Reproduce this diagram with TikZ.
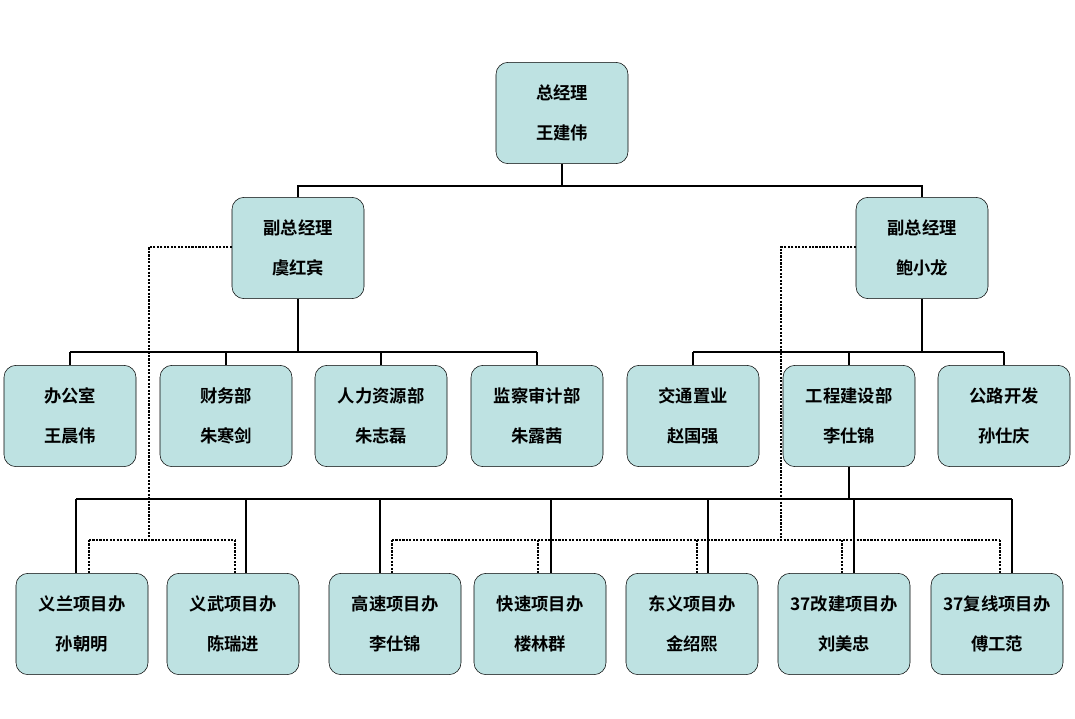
\documentclass[tikz,border=0pt]{standalone}
\usepackage{fontspec}
\setmainfont{Noto Sans CJK SC}[BoldFont={* Bold}]
\definecolor{boxfill}{RGB}{190,226,226}
\begin{document}
\begin{tikzpicture}[
		x=0.75pt,y=-0.75pt,
		unit/.style={draw,thin,fill=boxfill,rounded corners=9pt,minimum width=99pt,minimum height=76pt,
			align=center,font=\bfseries\fontsize{13}{30}\selectfont,inner sep=0pt},
		solid line/.style={line width=1.6pt},
		dot line/.style={line width=1.6pt,densely dotted}]
	\useasboundingbox (0,0) rectangle (1075,718);
	%% define boxes
	\node (gm) at (562,113) [unit] {总经理\\王建伟};
	\node (vp1) at (298,248) [unit] {副总经理\\虞红宾};
	\node (vp2) at (922,248) [unit] {副总经理\\鲍小龙};
	\node (d1) at (70,416) [unit] {办公室\\王晨伟};
	\node (d2) at (226,416) [unit] {财务部\\朱寒剑};
	\node (d3) at (381,416) [unit] {人力资源部\\朱志磊};
	\node (d4) at (537,416) [unit] {监察审计部\\朱露茜};
	\node (d5) at (693,416) [unit] {交通置业\\赵国强};
	\node (d6) at (849,416) [unit] {工程建设部\\李仕锦};
	\node (d7) at (1004,416) [unit] {公路开发\\孙仕庆};
	\node (p1) at (82,624) [unit] {义兰项目办\\孙朝明};
	\node (p2) at (233,624) [unit] {义武项目办\\陈瑞进};
	\node (p3) at (395,624) [unit] {高速项目办\\李仕锦};
	\node (p4) at (540,624) [unit] {快速项目办\\楼林群};
	\node (p5) at (692,624) [unit] {东义项目办\\金绍熙};
	\node (p6) at (844,624) [unit] {37改建项目办\\刘美忠};
	\node (p7) at (997,624) [unit] {37复线项目办\\傅工范};
	%% define solid links
	\draw[solid line] (gm.south) -- (562,186) -| (vp1.north);
	\draw[solid line] (562,186) -| (vp2.north);
	\draw[solid line] (vp1.south) -- (298,352);
	\draw[solid line] (70,352) -- (537,352);
	\foreach \d in {d1,d2,d3,d4} \draw[solid line] (\d.north |- 0,352) -- (\d.north);
	\draw[solid line] (vp2.south) -- (922,352);
	\draw[solid line] (693,352) -- (1004,352);
	\foreach \d in {d5,d6,d7} \draw[solid line] (\d.north |- 0,352) -- (\d.north);
	\draw[solid line] (d6.south) -- (849,499);
	\draw[solid line] (76,499) -- (1012,499);
	\foreach \p/\x in {p1/76,p2/246,p3/380,p4/551,p5/708,p6/854,p7/1012}
		\draw[solid line] (\x,499) -- (\x,0 |- \p.north);
	%% define dotted links
	\draw[dot line] (vp1.west |- 0,247) -- (149,247) -- (149,540);
	\draw[dot line] (89,540) -- (235,540);
	\foreach \p/\x in {p1/89,p2/235} \draw[dot line] (\x,540) -- (\x,0 |- \p.north);
	\draw[dot line] (vp2.west |- 0,247) -- (781,247) -- (781,540);
	\draw[dot line] (392,540) -- (1000,540);
	\foreach \p/\x in {p3/392,p4/538,p5/697,p6/842,p7/1000} \draw[dot line] (\x,540) -- (\x,0 |- \p.north);
\end{tikzpicture}
\end{document}
